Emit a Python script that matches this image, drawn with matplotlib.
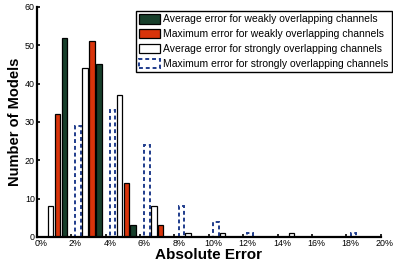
import numpy as np
import matplotlib
matplotlib.use("Agg")
import matplotlib.pyplot as plt
from matplotlib.transforms import ScaledTranslation

plt.rcParams['font.family'] = ['Liberation Sans', 'DejaVu Sans']

# histogram bins (bin centres, % absolute error)
bin_centres = [1, 3, 5, 7, 9, 11, 13, 15, 17, 19]
avg_weak = [52, 45, 3, 0, 0, 0, 0, 0, 0, 0]
max_weak = [32, 51, 14, 3, 0, 0, 0, 0, 0, 0]
avg_strong = [8, 44, 37, 8, 1, 1, 0, 1, 0, 0]
max_strong = [0, 29, 33, 24, 8, 4, 1, 0, 0, 1]

labels = [
    "Average error for weakly overlapping channels",
    "Maximum error for weakly overlapping channels",
    "Average error for strongly overlapping channels",
    "Maximum error for strongly overlapping channels",
]
x_ticks = [0, 2, 4, 6, 8, 10, 12, 14, 16, 18, 20]
y_ticks = [0, 10, 20, 30, 40, 50, 60]

green = "#173f2b"
red = "#d9340b"
navy = "#1f3c8c"

fig = plt.figure(figsize=(3.93, 2.69), dpi=100)
ax = fig.add_axes([0.094, 0.119, 0.875, 0.855])

x = np.array(bin_centres, dtype=float)
w = 0.32
step = 0.4

# order left to right inside a bin: max strong, avg strong, max weak, avg weak
b4 = ax.bar(x - 1.5 * step, max_strong, w, facecolor="none", edgecolor=navy,
            linewidth=1.4, linestyle=(0, (2, 1.5)), label=labels[3], zorder=3)
b3 = ax.bar(x - 0.5 * step, avg_strong, w, facecolor="white", edgecolor="black",
            linewidth=0.9, label=labels[2], zorder=3)
b2 = ax.bar(x + 0.5 * step, max_weak, w, facecolor=red, edgecolor="black",
            linewidth=0.9, label=labels[1], zorder=3)
b1 = ax.bar(x + 1.5 * step, avg_weak, w, facecolor=green, edgecolor="black",
            linewidth=0.9, label=labels[0], zorder=3)

ax.set_xlim(0, 20)
ax.set_ylim(0, 60)
ax.set_xticks(x_ticks)
ax.set_xticklabels([f"{t}%" for t in x_ticks])
ax.set_yticks(y_ticks)

for s in ["top", "right"]:
    ax.spines[s].set_visible(False)
for s in ["left", "bottom"]:
    ax.spines[s].set_linewidth(1.6)
    ax.spines[s].set_zorder(4)

ax.tick_params(direction="in", length=2.5, width=1.2, labelsize=6.4, pad=1.5)

# labels sit a little to the right of their ticks in the original
offset = ScaledTranslation(3 / 72, 0, fig.dpi_scale_trans)
for lab in ax.get_xticklabels():
    lab.set_transform(lab.get_transform() + offset)

ax.set_xlabel("Absolute Error", fontsize=11, fontweight="bold", labelpad=0)
ax.set_ylabel("Number of Models", fontsize=10.5, fontweight="bold", labelpad=2)

leg = ax.legend(handles=[b1, b2, b3, b4], labels=labels, loc="upper right",
                bbox_to_anchor=(1.032, 0.982), fontsize=7.5, frameon=True,
                fancybox=False, framealpha=1, edgecolor="black",
                handlelength=2.0, handleheight=1.0, handletextpad=0.3,
                labelspacing=0.45, borderpad=0.3, borderaxespad=0)
leg.get_frame().set_linewidth(1.0)
leg.set_zorder(5)

fig.savefig("out.png", dpi=100)
